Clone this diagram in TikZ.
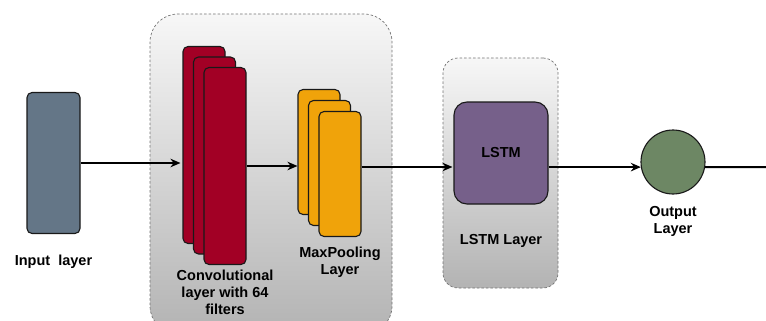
\documentclass[tikz,border=0pt]{standalone}
\usepackage{fontspec}
\setmainfont{Liberation Sans}
\usepackage{tikz}
\usetikzlibrary{positioning}
\usetikzlibrary{arrows.meta}

\definecolor{inputfill}{HTML}{647687}
\definecolor{convfill}{HTML}{A20025}
\definecolor{poolfill}{HTML}{F0A30A}
\definecolor{lstmfill}{HTML}{76608A}
\definecolor{outfill}{HTML}{6D8764}
\definecolor{grouptop}{HTML}{F7F7F7}
\definecolor{groupbottom}{HTML}{B3B3B3}

\begin{document}
\begin{tikzpicture}[x=1pt, y=-1pt,
    group/.style={draw=black!55, dash pattern=on 2.5pt off 2pt, line width=0.7pt,
      top color=grouptop, bottom color=groupbottom, inner sep=0pt},
    layerbox/.style={draw=black!90, line width=1.1pt, rounded corners=5pt, inner sep=0pt},
    convbox/.style={layerbox, fill=convfill, minimum width=42pt, minimum height=197pt},
    poolbox/.style={layerbox, fill=poolfill, minimum width=42pt, minimum height=125pt},
    lbl/.style={font=\bfseries\fontsize{14.5}{17}\selectfont, align=center, inner sep=0pt},
    conn/.style={line width=2pt, -{Stealth[length=10pt,width=8.5pt]}},
  ]
  \useasboundingbox (0,0) rectangle (766,321);

  % grouping boxes
  \node[group, rounded corners=28pt, minimum width=242pt, minimum height=320pt] (convgroup) at (271,174) {};
  \node[group, rounded corners=15pt, minimum width=115pt, minimum height=230pt] (lstmgroup) at (500.5,173) {};

  % input
  \node[layerbox, fill=inputfill, minimum width=53pt, minimum height=141pt] (inp) at (53.5,163) {};
  \node[lbl, below=20.5pt of inp] (inplabel) {Input\ \ layer};

  % convolution
  \node[convbox] (conv1) at (204,145) {};
  \node[convbox] (conv2) at ([shift={(10.5,10.5)}]conv1.center) {};
  \node[convbox] (conv3) at ([shift={(10.5,10.5)}]conv2.center) {};
  \node[lbl, below=4.5pt of conv3] (convlabel) {Convolutional\\layer with 64\\filters};

  % max pooling
  \node[poolbox] (pool1) at (319,152) {};
  \node[poolbox] (pool2) at ([shift={(10.5,11)}]pool1.center) {};
  \node[poolbox] (pool3) at ([shift={(10.5,11)}]pool2.center) {};
  \node[lbl, below=10pt of pool3] (poollabel) {MaxPooling\\Layer};

  % lstm
  \node[layerbox, rounded corners=13pt, fill=lstmfill, minimum width=94pt, minimum height=102pt,
    font=\bfseries\fontsize{14.5}{17}\selectfont] (lstm) at (501,153) {LSTM};
  \node[lbl, below=30pt of lstm] (lstmlabel) {LSTM Layer};

  % output
  \node[circle, draw=black!90, line width=1.1pt, fill=outfill, minimum size=64pt, inner sep=0pt] (out) at (673,162) {};
  \node[lbl, below=12pt of out] (outlabel) {Output\\Layer};
  \coordinate (outend) at (770,167);

  % connections
  \draw[conn, shorten >=2pt] (inp.east) -- (inp.east -| conv1.west);
  \draw[conn] (conv3.east) -- (conv3.east -| pool1.west);
  \draw[conn, shorten >=1pt] ([yshift=7pt]pool3.east) -- ([yshift=7pt]pool3.east -| lstm.west);
  \draw[conn] (lstm.east |- out.189) -- (out.189);
  \draw[line width=2pt] (out.-9) -- (outend);
\end{tikzpicture}
\end{document}
